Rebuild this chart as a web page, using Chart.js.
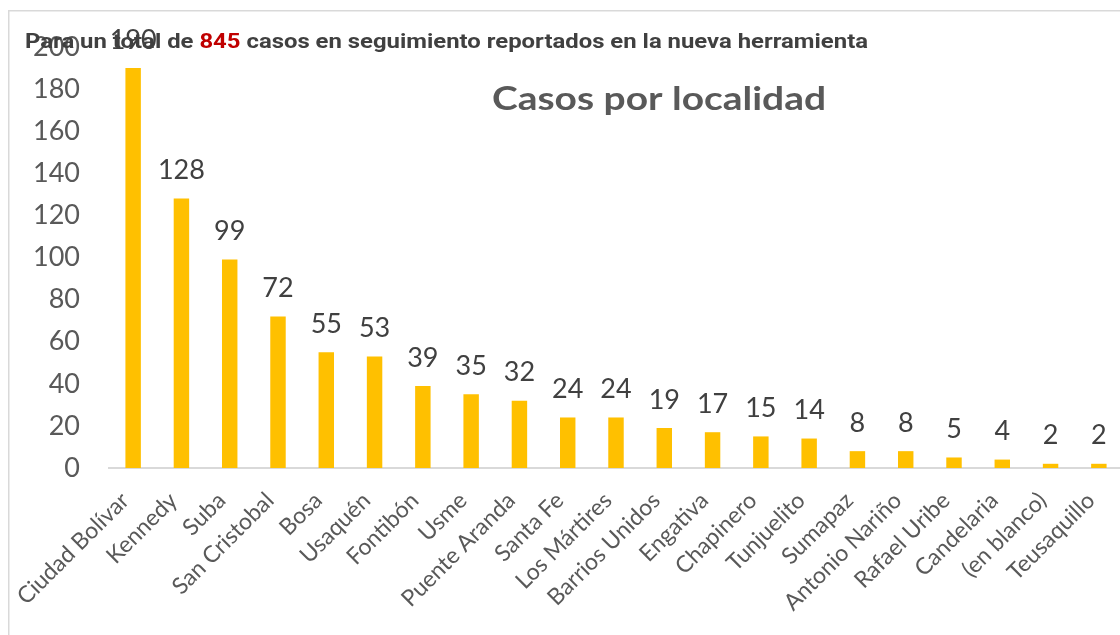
<!DOCTYPE html>
<html><head><meta charset="utf-8">
<script src="https://cdn.jsdelivr.net/npm/chart.js@4.4.0/dist/chart.umd.min.js"></script>
<style>html,body{margin:0;padding:0;background:#fff;overflow:hidden;}#wrap{width:1124px;height:635px;position:relative}</style>
</head><body><div id="wrap"><canvas id="c"></canvas></div>
<script>
const categories = ["Ciudad Bolívar","Kennedy","Suba","San Cristobal","Bosa","Usaquén","Fontibón","Usme","Puente Aranda","Santa Fe","Los Mártires","Barrios Unidos","Engativa","Chapinero","Tunjuelito","Sumapaz","Antonio Nariño","Rafael Uribe","Candelaria","(en blanco)","Teusaquillo"];
const values = [190,128,99,72,55,53,39,35,32,24,24,19,17,15,14,8,8,5,4,2,2];
const yMin = 0, yMax = 200, yStep = 20;
const titleText = "Casos por localidad";
const subtitleParts = [["Para un total de ", false], ["845", true], [" casos en seguimiento reportados en la nueva herramienta", false]];

const FONT = "Lato, 'Open Sans', 'Liberation Sans', sans-serif";

const framePlugin = {
  id: 'frame',
  beforeDraw(chart) {
    const ctx = chart.ctx;
    ctx.save();
    ctx.strokeStyle = '#D9D9D9';
    ctx.lineWidth = 1.5;
    ctx.strokeRect(8.75, 10.75, 3000, 3000);
    ctx.restore();
  }
};

const labelPlugin = {
  id: 'vals',
  afterDatasetsDraw(chart) {
    const ctx = chart.ctx;
    const meta = chart.getDatasetMeta(0);
    ctx.save();
    ctx.font = "27px " + FONT;
    ctx.fillStyle = '#404040';
    ctx.textAlign = 'center';
    ctx.textBaseline = 'middle';
    meta.data.forEach((bar, i) => {
      ctx.fillText(String(values[i]), bar.x, bar.y - 28);
    });
    ctx.restore();
  }
};

const textPlugin = {
  id: 'texts',
  afterDraw(chart) {
    const ctx = chart.ctx;
    ctx.save();
    // title
    ctx.font = "bold 33px " + FONT;
    ctx.fillStyle = '#595959';
    ctx.textBaseline = 'middle';
    ctx.textAlign = 'left';
    const tw = ctx.measureText(titleText).width;
    const tsx = 334 / tw;
    ctx.save();
    ctx.translate(492, 99);
    ctx.scale(tsx, 1);
    ctx.fillText(titleText, 0, 0);
    ctx.restore();
    // subtitle
    ctx.font = "bold 21px Roboto, " + FONT;
    let total = 0;
    subtitleParts.forEach(p => total += ctx.measureText(p[0]).width);
    const sx = 843 / total;
    ctx.save();
    ctx.translate(25, 43);
    ctx.scale(sx, 1);
    let x = 0;
    subtitleParts.forEach(p => {
      ctx.fillStyle = p[1] ? '#C00000' : '#404040';
      ctx.fillText(p[0], x, 0);
      x += ctx.measureText(p[0]).width;
    });
    ctx.restore();
    ctx.restore();
  }
};

new Chart(document.getElementById('c'), {
  type: 'bar',
  data: {
    labels: categories,
    datasets: [{
      data: values,
      backgroundColor: '#FFC000',
      borderWidth: 0,
      barPercentage: 0.32,
      categoryPercentage: 1.0
    }]
  },
  options: {
    responsive: true,
    maintainAspectRatio: false,
    animation: false,
    events: [],
    layout: { padding: { top: 47, right: 1, left: 0, bottom: 0 } },
    plugins: { legend: { display: false }, tooltip: { enabled: false }, title: { display: false } },
    scales: {
      x: {
        grid: { display: false, drawTicks: false },
        border: { display: true, color: '#D9D9D9', width: 2 },
        ticks: {
          autoSkip: false, maxRotation: 45, minRotation: 45,
          color: '#595959', font: { family: FONT, size: 23 },
          padding: 19, labelOffset: -8
        },
        afterFit(s) { s.height = 167; s.paddingLeft = 0; s.paddingRight = 0; }
      },
      y: {
        min: yMin, max: yMax,
        grid: { display: false, drawTicks: false },
        border: { display: false },
        ticks: { stepSize: yStep, color: '#595959', font: { family: FONT, size: 27 }, padding: 29 },
        afterFit(s) { s.width = 109; }
      }
    }
  },
  plugins: [framePlugin, labelPlugin, textPlugin]
});
</script></body></html>
